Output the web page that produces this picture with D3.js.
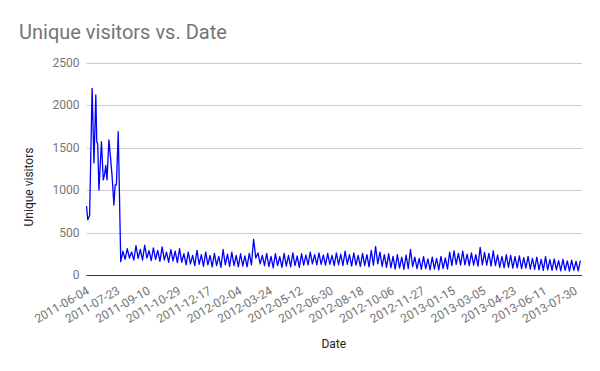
<!DOCTYPE html>
<html>
<head>
<meta charset="utf-8">
<script src="https://cdn.jsdelivr.net/npm/d3@7"></script>
<style>
  html, body { margin: 0; padding: 0; background: #fff; }
  svg { display: block; font-family: Roboto, "Noto Sans", sans-serif; }
</style>
</head>
<body>
<svg id="chart" width="600" height="371"></svg>
<script>
// ---- data ----
// Category labels on the x axis, one every 49 rows
const tickLabels = ["2011-06-04","2011-07-23","2011-09-10","2011-10-29","2011-12-17",
  "2012-02-04","2012-03-24","2012-05-12","2012-06-30","2012-08-18","2012-10-06",
  "2012-11-27","2013-01-15","2013-03-05","2013-04-23","2013-06-11","2013-07-30"];
const firstTickRow = 5;
const tickEvery = 49;
const lastRow = 794.5;

// Early high-traffic period: row offsets and unique visitors
const earlyRows = [0, 2, 5, 9, 12, 15, 16.5, 18, 20, 24, 27, 29, 31, 33, 36, 38.5, 41, 44, 46, 48, 51];
const earlyVisitors = [812, 650, 700, 2196, 1318, 2118, 1568, 1540, 1000, 1568, 1118, 1180, 1290, 1118, 1590, 1390, 1176, 823, 1060, 1060, 1686];

// Later period: weekly troughs and peaks, one sample every half week starting at row 55
const laterStartRow = 55;
const laterStep = 3.5;
const laterVisitors = [157,
  280,185, 310,200, 270,175, 345,195, 300,175, 350,200, 285,170, 320,185, 290,160, 330,175,
  270,150, 300,165, 280,145, 310,150, 250,120, 270,130, 230,110, 290,125, 240,100, 270,120,
  230,95, 255,110, 220,90, 300,120, 245,100, 270,110, 230,95, 250,105, 225,95, 255,120,
  420,200, 260,130, 230,110, 255,100, 220,85, 250,110, 215,90, 255,105, 230,95, 260,110,
  225,90, 250,115, 235,120, 270,130, 240,120, 260,125, 235,115, 255,125, 230,110, 260,120,
  245,110, 280,125, 240,105, 260,115, 230,100, 255,110, 240,95, 290,115, 335,130, 270,100,
  240,90, 250,85, 220,70, 240,80, 210,65, 235,75, 300,100, 210,75, 195,65, 215,75,
  190,60, 210,70, 195,60, 220,75, 200,70, 270,110, 285,125, 255,115, 280,120, 245,110,
  260,115, 240,105, 325,120, 265,115, 255,105, 285,110, 235,90, 220,85, 240,90, 230,80,
  215,85, 225,75, 205,80, 220,70, 195,65, 210,60, 185,55, 215,60, 180,55, 190,60,
  170,50, 185,55, 165,45, 175,55, 160,50,
  170];

const yTicks = [0, 500, 1000, 1500, 2000, 2500];

const chartTitle = "Unique visitors vs. Date";
const xTitle = "Date";
const yTitle = "Unique visitors";

// ---- build series ----
const series = earlyRows.map((r, i) => ({row: r, v: earlyVisitors[i]}))
  .concat(laterVisitors.map((v, i) => ({row: laterStartRow + i * laterStep, v})));

// ---- layout ----
const svg = d3.select("#chart");
const mLeft = 86.5, mRight = 581, mTop = 62.5, mBottom = 275;

const x = d3.scaleLinear().domain([0, lastRow]).range([mLeft, mRight]);
const y = d3.scaleLinear().domain([0, 2500]).range([mBottom, mTop]);

// gridlines
svg.append("g").selectAll("line").data(yTicks.filter(d => d > 0)).join("line")
  .attr("x1", mLeft).attr("x2", mRight + 1)
  .attr("y1", d => Math.round(y(d)) + 0.5).attr("y2", d => Math.round(y(d)) + 0.5)
  .attr("stroke", "#cccccc").attr("stroke-width", 1);

// y axis labels
const yAxis = d3.axisLeft(y).tickValues(yTicks).tickSize(0).tickPadding(7).tickFormat(d3.format("d"));
const gy = svg.append("g").attr("transform", `translate(${mLeft},0)`).call(yAxis);
gy.select(".domain").remove();
gy.selectAll("text").attr("fill", "#757575").style("font-size", "12px").attr("font-family", "Roboto");

// line
const line = d3.line().x(d => x(d.row)).y(d => y(d.v));
svg.append("path").datum(series)
  .attr("d", line).attr("fill", "none")
  .attr("stroke", "#0000ff").attr("stroke-width", 1.3).attr("stroke-linejoin", "round");

// baseline
svg.append("line").attr("x1", mLeft).attr("x2", mRight + 1)
  .attr("y1", Math.round(y(0)) + 0.5).attr("y2", Math.round(y(0)) + 0.5)
  .attr("stroke", "#333333").attr("stroke-width", 1);

// x axis tick labels (rotated)
const tickRows = tickLabels.map((_, i) => firstTickRow + i * tickEvery);
const xAxis = d3.axisBottom(x).tickValues(tickRows).tickSize(0).tickPadding(0)
  .tickFormat((d, i) => tickLabels[i]);
const gx = svg.append("g").attr("transform", `translate(0,${mBottom})`).call(xAxis);
gx.select(".domain").remove();
gx.selectAll("text")
  .attr("fill", "#757575").style("font-size", "12px").attr("font-family", "Roboto")
  .attr("text-anchor", "end").attr("dy", null).attr("y", 0)
  .attr("transform", "translate(0,18) rotate(-30)");

// titles
svg.append("text").attr("x", 19).attr("y", 38.5)
  .attr("fill", "#757575").style("font-size", "20px").text(chartTitle);
svg.append("text").attr("x", (mLeft + mRight) / 2).attr("y", 348)
  .attr("text-anchor", "middle").attr("fill", "#222").style("font-size", "12px").text(xTitle);
svg.append("text").attr("transform", "translate(32.5,187) rotate(-90)")
  .attr("text-anchor", "middle").attr("fill", "#222").style("font-size", "12px").text(yTitle);
</script>
</body>
</html>
